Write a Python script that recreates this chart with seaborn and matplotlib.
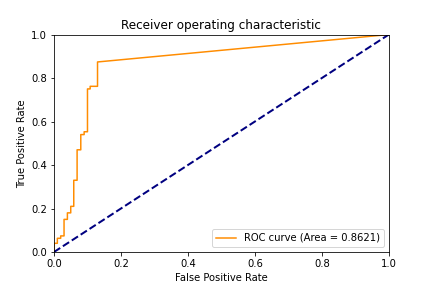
import matplotlib
matplotlib.use("Agg")
import matplotlib.pyplot as plt
import seaborn as sns

# ROC points (corner points of the step curve)
fpr = [0.0, 0.0, 0.01, 0.01, 0.02, 0.02, 0.03, 0.03, 0.04, 0.04, 0.05, 0.05,
       0.059, 0.059, 0.069, 0.069, 0.08, 0.08, 0.09, 0.09, 0.10, 0.10,
       0.108, 0.108, 0.13, 0.13, 1.0]
tpr = [0.0, 0.04, 0.04, 0.063, 0.063, 0.074, 0.074, 0.15, 0.15, 0.18, 0.18, 0.21,
       0.21, 0.33, 0.33, 0.47, 0.47, 0.54, 0.54, 0.553, 0.553, 0.75,
       0.75, 0.762, 0.762, 0.874, 1.0]
roc_auc = 0.8621
chance = [0.0, 1.0]

fig, ax = plt.subplots(figsize=(6, 4), dpi=72)
fig.subplots_adjust(bottom=0.125)
sns.lineplot(x=fpr, y=tpr, sort=False, estimator=None, color="darkorange",
             lw=1.5, label="ROC curve (Area = %0.4f)" % roc_auc, ax=ax)
sns.lineplot(x=chance, y=chance, sort=False, estimator=None, color="navy",
             lw=2, linestyle="--", ax=ax)
ax.set_xlim(0.0, 1.0)
ax.set_ylim(0.0, 1.0)
ax.set_xlabel("False Positive Rate")
ax.set_ylabel("True Positive Rate")
ax.set_title("Receiver operating characteristic")
ax.legend(loc="lower right")
fig.savefig("out.png", dpi=72)
